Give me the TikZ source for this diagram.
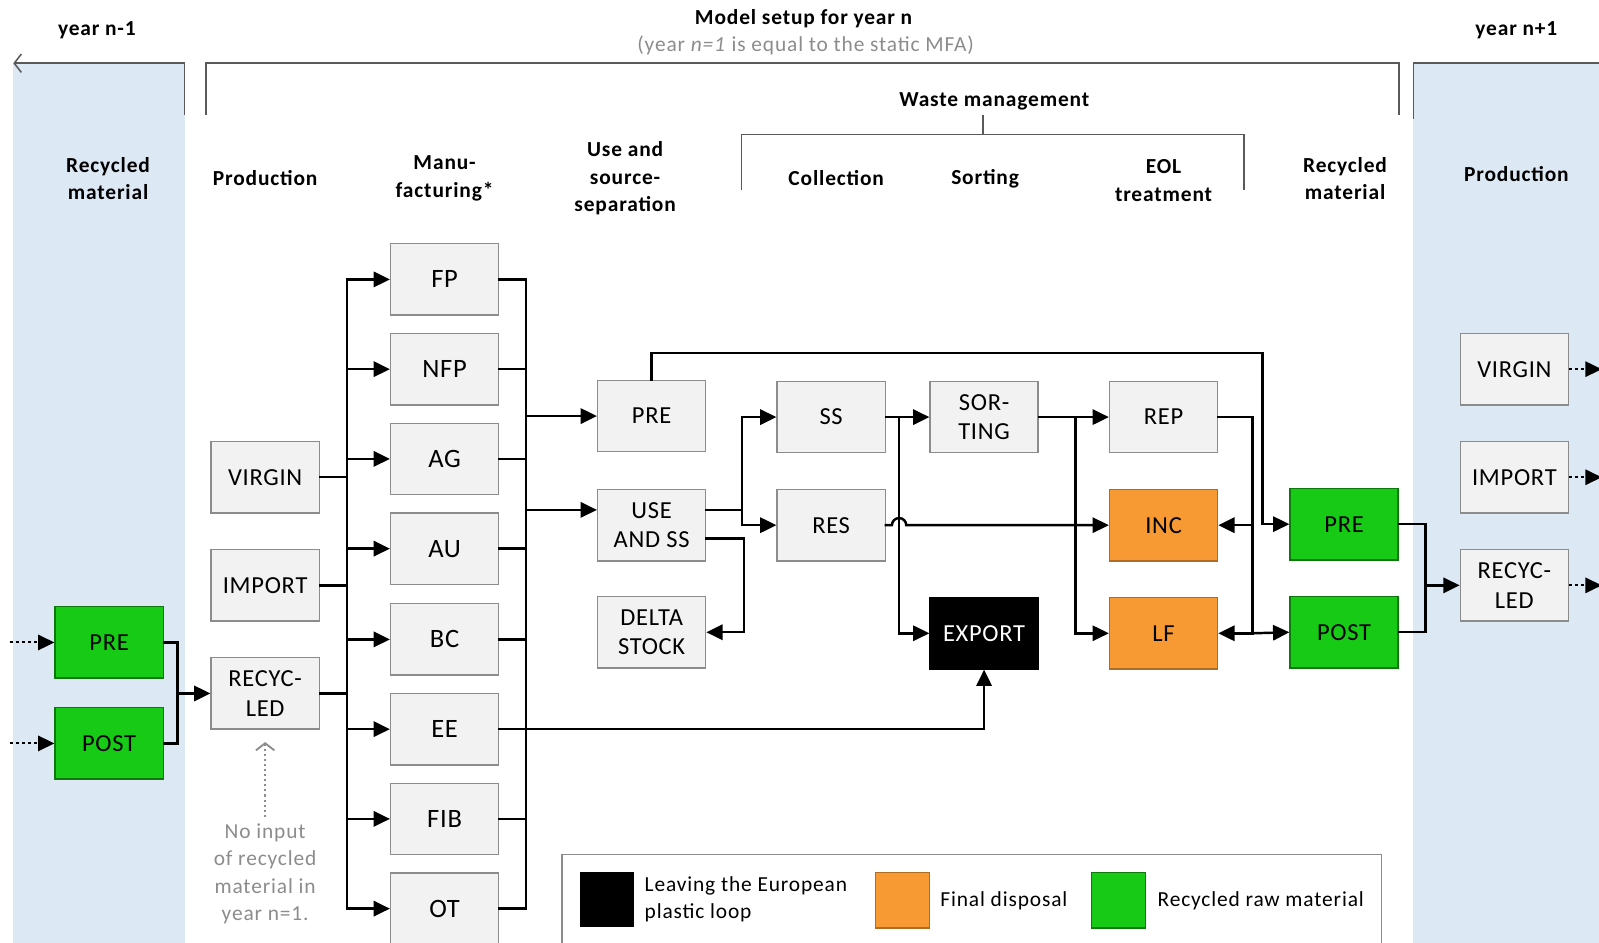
\documentclass[tikz,border=0pt]{standalone}
\usepackage{fontspec}
\setmainfont{Carlito}
\usetikzlibrary{arrows.meta,positioning}

\definecolor{panelblue}{RGB}{221,232,245}
\definecolor{boxfill}{RGB}{242,242,242}
\definecolor{boxline}{RGB}{140,140,140}
\definecolor{recgreen}{RGB}{22,202,22}
\definecolor{dispoorange}{RGB}{248,154,52}
\definecolor{notegrey}{RGB}{140,140,140}
\definecolor{framegrey}{RGB}{90,90,90}

\newcommand\boxfont{\fontsize{24}{29}\selectfont\addfontfeature{LetterSpace=3}}
\newcommand\bigboxfont{\fontsize{26}{30}\selectfont\addfontfeature{LetterSpace=3}}
\newcommand\headfont{\fontsize{21}{27}\selectfont\bfseries\addfontfeature{LetterSpace=4}}
\newcommand\plainfont{\fontsize{21}{27}\selectfont\addfontfeature{LetterSpace=4}}

\tikzset{
  proc/.style={draw=boxline, line width=1.3pt, fill=boxfill, minimum width=106pt,
    minimum height=70pt, inner sep=2pt, align=center, font=\boxfont},
  manu/.style={proc, font=\bigboxfont},
  recbox/.style={proc, fill=recgreen, draw=recgreen!60!black},
  dispbox/.style={proc, fill=dispoorange, draw=dispoorange!70!black},
  leavebox/.style={proc, fill=black, draw=black, text=white},
  flow/.style={line width=2.4pt, line cap=rect},
  dots/.style={line width=2pt, dash pattern=on 3pt off 3pt},
  head/.style={align=center, font=\headfont},
  frame/.style={draw=framegrey, line width=1.5pt},
  legsq/.style={minimum width=53pt, minimum height=54pt, inner sep=0pt, line width=1pt},
  legtext/.style={align=left, font=\plainfont, inner sep=0pt},
}

\begin{document}
\begin{tikzpicture}[x=1pt, y=-1pt, >={Triangle[length=16pt,width=15pt]}]
	\useasboundingbox (0,0) rectangle (1568,924);
	\fill[panelblue] (13,62) rectangle (181,940);
	\fill[panelblue] (1386,62) rectangle (1580,940);
	
	\draw[frame, -{Straight Barb[length=7pt,width=18pt]}] (181,113) -- (181,62) -- (13,62);
	\draw[frame] (202,113) -- (202,62) -- (1372,62) -- (1372,113);
	\draw[frame] (1386,117) -- (1386,62) -- (1580,62);
	\draw[frame] (727,186) -- (727,132) -- (1220,132) -- (1220,186);
	\draw[frame] (964,113) -- (964,132);
	
	\node[head] (yprev) at (95,30) {year n-1};
	\node[head] (title) at (788,18) {Model setup for year n};
	\node[font=\plainfont, text=notegrey] (subtitle) at (790,45) {(year \textit{n=1} is equal to the static MFA)};
	\node[head] (ynext) at (1487,30) {year n+1};
	\node[head] (waste) at (975,99) {Waste management};
	\node[head] (h1) at (106,175) {Recycled\\material};
	\node[head] (h2) at (260,175) {Production};
	\node[head] (h3) at (436,175) {Manu-\\facturing*};
	\node[head] (h4) at (613,175) {Use and\\source-\\separation};
	\node[head] (h5) at (820,175) {Collection};
	\node[head] (h6) at (966,175) {Sorting};
	\node[head] (h7) at (1141,177) {EOL\\treatment};
	\node[head] (h8) at (1319,175) {Recycled\\material};
	\node[head] (h9) at (1487,171) {Production};
	
	\node[recbox] (lpre) at (107,630) {PRE};
	\node[recbox] (lpost) at (107,729) {POST};
	
	\node[proc] (virgin) at (260,468) {VIRGIN};
	\node[proc] (import) at (260,574) {IMPORT};
	\node[proc] (recyc) at (260,680) {RECYC-\\LED};
	
	\node[manu] (fp) at (436,274) {FP};
	\node[manu] (nfp) at (436,362) {NFP};
	\node[manu] (ag) at (436,450) {AG};
	\node[manu] (au) at (436,538) {AU};
	\node[manu] (bc) at (436,627) {BC};
	\node[manu] (ee) at (436,715) {EE};
	\node[manu] (fib) at (436,803) {FIB};
	\node[manu] (ot) at (436,891) {OT};
	
	\node[proc] (upre) at (639,408) {PRE};
	\node[proc] (use) at (639,515) {USE\\AND SS};
	\node[proc] (delta) at (639,620) {DELTA\\STOCK};
	
	\node[proc] (ss) at (815,409) {SS};
	\node[proc] (res) at (815,515) {RES};
	\node[proc] (sort) at (965,409) {SOR-\\TING};
	\node[leavebox] (export) at (965,621) {EXPORT};
	
	\node[proc] (rep) at (1141,409) {REP};
	\node[dispbox] (inc) at (1141,515) {INC};
	\node[dispbox] (lf) at (1141,621) {LF};
	
	\node[recbox] (rpre) at (1318,514) {PRE};
	\node[recbox] (rpost) at (1318,620) {POST};
	
	\node[proc] (nvirgin) at (1485,362) {VIRGIN};
	\node[proc] (nimport) at (1485,468) {IMPORT};
	\node[proc] (nrecyc) at (1485,574) {RECYC-\\LED};
	
	\coordinate (lj) at (174,680);
	\coordinate (busl) at (340,274);
	\coordinate (busr) at (516,274);
	\coordinate (toprun) at (1238,346);
	\coordinate (eolj) at (1228,409);
	\coordinate (recj) at (1398,574);
	
	\draw[dots,->] ([xshift=-44pt]lpre.west) -- (lpre.west);
	\draw[dots,->] ([xshift=-44pt]lpost.west) -- (lpost.west);
	\draw[flow] (lpre.east) -| (lj) |- (lpost.east);
	\draw[flow,->] (lj) -- (recyc.west);
	
	\foreach \src in {virgin,import,recyc}
		\draw[flow] (\src.east) -- (\src.east -| busl);
	\draw[flow] (busl) -- (busl |- ot.west);
	\foreach \dst in {fp,nfp,ag,au,bc,ee,fib,ot}
		\draw[flow,->] (busl |- \dst.west) -- (\dst.west);
	\foreach \src in {fp,nfp,ag,au,bc,fib,ot}
		\draw[flow] (\src.east) -- (\src.east -| busr);
	\draw[flow] (busr) -- (busr |- ot.east);
	\draw[flow,->] (busr |- upre.west) -- (upre.west);
	\draw[flow,->] (busr |- 0,500) -- ([yshift=15pt]use.west);
	\draw[flow,->] (ee.east) -| (export.south);
	
	\draw[flow,->] (upre.north) |- (toprun) |- (rpre.west);
	\draw[flow,->] ([yshift=15pt]use.east) -- ++(35,0) |- (ss.west);
	\draw[flow,->] ([yshift=15pt]use.east) -- ++(35,0) |- (res.west);
	\draw[flow,->] ([yshift=-13pt]use.east) -- ++(37,0) |- (delta.east);
	
	\draw[flow,->] (ss.east) -- (sort.west);
	\draw[flow,->] (ss.east) -- ++(13,0) |- (export.west);
	\draw[flow,->] (res.east) -- ++(6,0) arc[start angle=180, end angle=0, radius=7pt] -- (inc.west);
	\draw[flow,->] (sort.east) -- (rep.west);
	\draw[flow,->] (sort.east) -- ++(36,0) |- (lf.west);
	
	\draw[flow] (rep.east) -- (eolj) -- (eolj |- lf.east);
	\draw[flow,->] (eolj |- inc.east) -- (inc.east);
	\draw[flow,->] (eolj |- lf.east) -- (lf.east);
	\draw[flow,->] (eolj |- lf.east) -- (rpost.west);
	
	\draw[flow] (rpre.east) -| (recj) |- (rpost.east);
	\draw[flow,->] (recj) -- (nrecyc.west);
	\draw[dots,->] (nvirgin.east) -- ++(32,0);
	\draw[dots,->] (nimport.east) -- ++(32,0);
	\draw[dots,->] (nrecyc.east) -- ++(32,0);
	
	\node[align=center, text=notegrey, font=\plainfont] (note) at (260,857) {No input\\of recycled\\material in\\year n=1.};
	\draw[notegrey, line width=1.8pt, dash pattern=on 2pt off 3pt, -{Straight Barb[length=7pt,width=18pt]}] (note.north) ++(0,-3) -- ([yshift=-12pt]recyc.south);
	
	\draw[draw=boxline, line width=1.3pt] (551,838) rectangle (1355,945);
	\node[legsq, fill=black] (lblack) at (595,882) {};
	\node[legtext, right=10pt of lblack] (ltblack) {Leaving the European\\plastic loop};
	\node[legsq, fill=dispoorange, draw=dispoorange!70!black] (lorange) at (885,883) {};
	\node[legtext, right=10pt of lorange] (ltorange) {Final disposal};
	\node[legsq, fill=recgreen, draw=recgreen!60!black] (lgreen) at (1097,883) {};
	\node[legtext, right=11pt of lgreen] (ltgreen) {Recycled raw material};
\end{tikzpicture}
\end{document}
